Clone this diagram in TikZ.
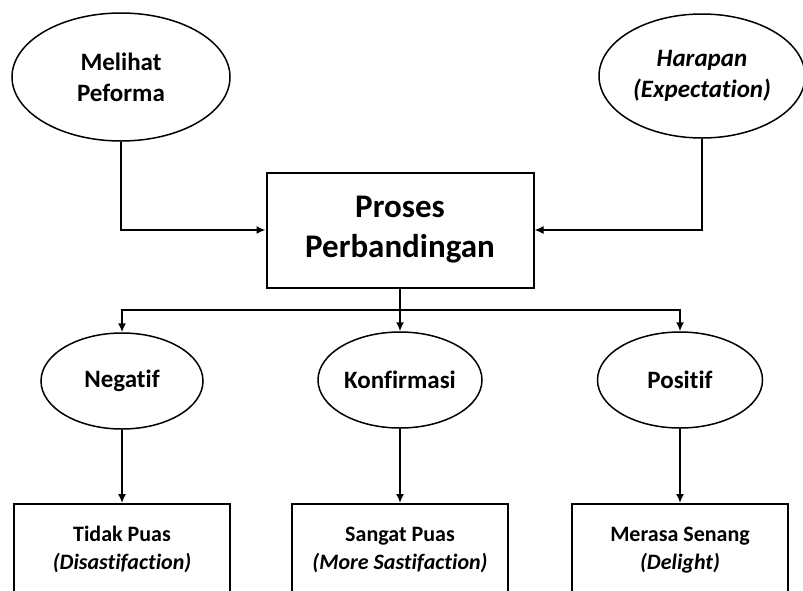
\documentclass[tikz,border=0pt]{standalone}
\usepackage{fontspec}
\setmainfont{Carlito}[RawFeature={-liga}]
\usetikzlibrary{shapes.geometric,arrows.meta}
\begin{document}
\begin{tikzpicture}[x=1pt, y=-1pt, >={Latex[length=9pt,width=8pt]},
  oval/.style={ellipse, draw, line width=1.5pt, inner sep=0pt, align=center, font=\bfseries\fontsize{25}{31}\selectfont},
  mainbox/.style={rectangle, draw, line width=2pt, minimum width=267, minimum height=115, align=center, font=\bfseries\fontsize{33}{40}\selectfont},
  resbox/.style={rectangle, draw, line width=2pt, minimum width=216, minimum height=130, anchor=north, align=center, font=\bfseries\fontsize{22}{28}\selectfont},
  line/.style={line width=1.6pt}]
  \clip (0,0) rectangle (803,590);
  % Inputs (ellipses)
  \node[oval, minimum width=218, minimum height=128] (melihat) at (121,77) {Melihat\\Peforma};
  \node[oval, minimum width=206, minimum height=124] (harapan) at (702,76) {\itshape Harapan\\\itshape (Expectation)};
  % Comparison process
  \node[mainbox] (proses) at (400,230) {Proses\\Perbandingan};
  % Outcomes
  \node[oval, minimum width=162, minimum height=96] (negatif) at (122,381) {Negatif};
  \node[oval, minimum width=164, minimum height=96] (konfirmasi) at (400,380) {Konfirmasi};
  \node[oval, minimum width=165, minimum height=96] (positif) at (680,380) {Positif};
  % Results (boxes, cut off at the bottom)
  \node[resbox] (tidakpuas) at (122,503) {Tidak Puas\\\itshape (Disastifaction)\\[14pt]};
  \node[resbox] (sangatpuas) at (400,503) {Sangat Puas\\\itshape (More Sastifaction)\\[14pt]};
  \node[resbox] (senang) at (680,503) {Merasa Senang\\\itshape (Delight)\\[14pt]};
  % Connectors
  \coordinate (bus) at (400,310);
  \draw[line,->] (melihat.south) |- (proses.west);
  \draw[line,->] (harapan.south) |- (proses.east);
  \draw[line] (proses.south) -- (bus);
  \draw[line,->] (bus) -| (negatif.north);
  \draw[line,->] (bus) -- (konfirmasi.north);
  \draw[line,->] (bus) -| (positif.north);
  \draw[line,->] (negatif.south) -- (tidakpuas.north);
  \draw[line,->] (konfirmasi.south) -- (sangatpuas.north);
  \draw[line,->] (positif.south) -- (senang.north);
\end{tikzpicture}
\end{document}
